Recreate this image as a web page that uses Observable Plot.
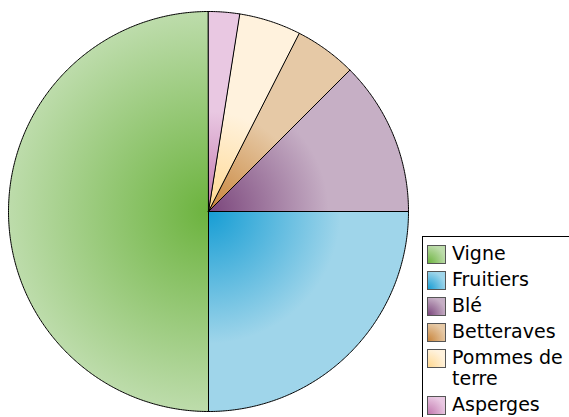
<!DOCTYPE html>
<html>
<head>
<meta charset="utf-8">
<script src="https://cdn.jsdelivr.net/npm/d3@7"></script>
<script src="https://cdn.jsdelivr.net/npm/@observablehq/plot@0.6"></script>
<style>
  html, body { margin: 0; padding: 0; background: #fff; }
  #wrap { position: relative; width: 569px; height: 417px; overflow: hidden; font-family: "DejaVu Sans", sans-serif; }
  #legend { position: absolute; left: 422px; top: 236px; width: 200px; height: 240px; border: 1px solid #000; box-sizing: border-box; background: #fff; padding: 6px 0 0 4px; }
  .item { display: flex; align-items: flex-start; margin-bottom: 5px; }
  .sw { width: 19px; height: 19px; box-sizing: border-box; border: 1px solid #555; margin-top: 2px; margin-right: 6px; flex: none; }
  .lab { font-size: 19px; line-height: 21px; color: #000; width: 116px; }
</style>
</head>
<body>
<div id="wrap"></div>
<script>
const names = ["Vigne", "Fruitiers", "Blé", "Betteraves", "Pommes de terre", "Asperges"];
const shares = [50, 25, 12.5, 5, 5, 2.5];
const darkColors = ["#6cb33e", "#169dd4", "#7a457b", "#c8843a", "#ffd890", "#c277ae"];
const lightColors = ["#bddcab", "#9fd5ea", "#c6afc5", "#e6c9a6", "#fff2dd", "#e9c8e2"];
const lightStops = [1.0, 0.66, 0.6, 0.5, 0.5, 0.5];

const pie = d3.pie().sort(null).startAngle(0).endAngle(2 * Math.PI)(shares);
const slices = names.map((name, i) => {
  const a0 = pie[i].startAngle, a1 = pie[i].endAngle;
  const n = Math.max(8, Math.ceil((a1 - a0) / (Math.PI / 360)));
  const pts = [{x: 0, y: 0}];
  for (let k = 0; k <= n; k++) {
    const a = a0 + (a1 - a0) * k / n;
    pts.push({x: -Math.sin(a), y: Math.cos(a)});
  }
  return {name, i, pts};
});

const chart = Plot.plot({
  width: 569,
  height: 417,
  margin: 0,
  x: {domain: [-1, 1], range: [8, 408], axis: null},
  y: {domain: [-1, 1], range: [411, 11], axis: null},
  marks: slices.map(s => Plot.line(s.pts, {
    x: "x", y: "y",
    curve: "linear-closed",
    fill: `url(#grad${s.i})`,
    stroke: "#000",
    strokeWidth: 1,
    strokeLinejoin: "round"
  }))
});

const cx = chart.scale("x").apply(0);
const cy = chart.scale("y").apply(0);
const r = chart.scale("x").apply(1) - cx;
const defs = d3.select(chart).insert("defs", ":first-child");
names.forEach((n, i) => {
  const g = defs.append("radialGradient")
    .attr("id", `grad${i}`)
    .attr("gradientUnits", "userSpaceOnUse")
    .attr("cx", cx).attr("cy", cy).attr("r", r)
    .attr("fx", cx).attr("fy", cy);
  g.append("stop").attr("offset", 0).attr("stop-color", darkColors[i]);
  g.append("stop").attr("offset", lightStops[i]).attr("stop-color", lightColors[i]);
  g.append("stop").attr("offset", 1).attr("stop-color", lightColors[i]);
});

const wrap = document.getElementById("wrap");
wrap.appendChild(chart);

const legend = document.createElement("div");
legend.id = "legend";
names.forEach((n, i) => {
  const item = document.createElement("div");
  item.className = "item";
  const sw = document.createElement("div");
  sw.className = "sw";
  sw.style.background = `radial-gradient(circle at 0% 100%, ${darkColors[i]} 0%, ${lightColors[i]} 75%)`;
  const lab = document.createElement("div");
  lab.className = "lab";
  lab.textContent = n;
  item.appendChild(sw);
  item.appendChild(lab);
  legend.appendChild(item);
});
wrap.appendChild(legend);
</script>
</body>
</html>
